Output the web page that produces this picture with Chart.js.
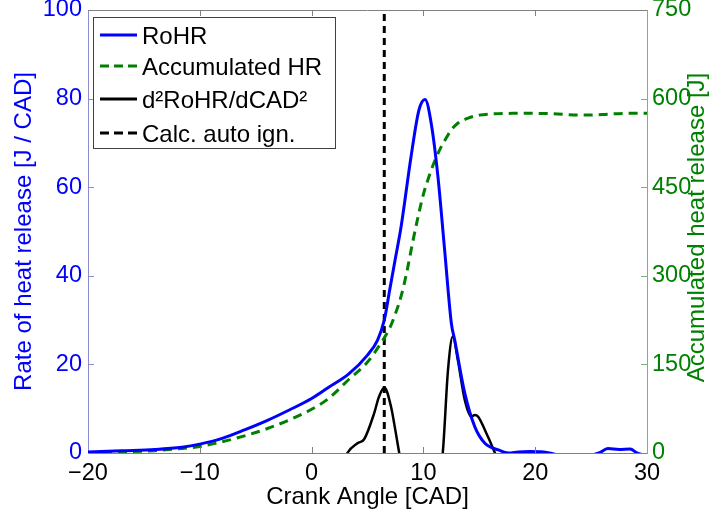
<!DOCTYPE html>
<html>
<head>
<meta charset="utf-8">
<script src="https://cdn.jsdelivr.net/npm/chart.js@4.4.0/dist/chart.umd.min.js"></script>
<style>
  html, body { margin: 0; padding: 0; background: #fff; }
  #wrap { width: 712px; height: 514px; }
</style>
</head>
<body>
<div id="wrap"><canvas id="chart" width="712" height="514"></canvas></div>
<script>
// Rate of heat release [J / CAD]
const rohrAngle = [-20, -17, -14, -11.6, -10, -8, -6, -4, -2, 0, 1.5, 3.3, 5.0, 5.9, 6.5, 7.0, 7.5, 8.0, 8.9, 9.6, 10.15, 10.7, 11.3, 11.9, 12.5, 12.8, 13.7, 14.6, 15.5, 16.7, 17.6, 18.5, 19.5, 20.5, 21.3, 22.5, 24.5, 25.7, 26.5, 27.5, 28.5, 29.1, 30];
const rohrValue = [0.2, 0.5, 0.8, 1.3, 2.0, 3.3, 5.2, 7.3, 9.7, 12.3, 14.8, 17.8, 22.1, 25.5, 30, 37, 44, 51, 67, 77.4, 79.8, 74.4, 62.4, 45.8, 29.3, 25.5, 13.5, 5.9, 2.2, 0.7, 0, 0.25, 0.35, 0.3, 0, -0.6, -0.6, 0, 1.0, 0.8, 0.9, 0, -0.6];

// Accumulated heat release [J]
const accAngle = [-20, -17, -14, -12, -10, -8, -6, -4, -2, 0, 1.5, 3.3, 5.0, 6.2, 7.0, 7.5, 8.0, 8.5, 9.0, 9.5, 10, 10.5, 11, 11.5, 12, 12.5, 13, 14, 15, 16, 18, 20, 22, 24, 26, 28, 30];
const accValue = [0.5, 2, 4, 7, 11, 19, 29, 41, 56, 74, 92, 124, 154, 186, 212, 236, 265, 305, 353, 398, 438, 468, 494, 515, 532, 547, 557, 567, 572, 574, 575, 575, 574, 572, 573, 575, 575];

// d2RoHR/dCAD2 (drawn on the left axis, clipped at zero)
const d2Angle = [2.6, 3.2, 4.1, 4.7, 5.6, 6.0, 6.5, 7.1, 7.5, 7.84, 8.3, 9.5, 10.5, 11.3, 11.73, 12.2, 12.63, 13.08, 13.7, 14.3, 14.6, 14.9, 15.5, 16.4, 17];
const d2Value = [-4, 0, 2.2, 3.1, 9, 12.5, 14.8, 10.5, 5, 0, -6, -20, -20, -6, 0, 18.7, 26.3, 21, 12, 8.2, 8.6, 8.2, 5.2, 0, -4];

// Calculated auto ignition
const autoIgnAngle = 6.5;

const xTicks = [-20, -10, 0, 10, 20, 30];
const leftTicks = [0, 20, 40, 60, 80, 100];
const rightTicks = [0, 150, 300, 450, 600, 750];

const zip = (xs, ys) => xs.map((x, i) => ({ x: x, y: ys[i] }));

const FONT = '"Liberation Sans", Arial, Helvetica, sans-serif';
const BLUE = '#0000ff';
const GREEN = '#008000';

const legendItems = [
    { text: 'RoHR', color: BLUE, dash: [], width: 3 },
    { text: 'Accumulated HR', color: GREEN, dash: [9, 5], width: 3 },
    { text: 'd\u00b2RoHR/dCAD\u00b2', color: '#000', dash: [], width: 3 },
    { text: 'Calc. auto ign.', color: '#000', dash: [9, 5], width: 3 }
];

// inward ticks, top frame, legend box and right-axis title
const decorations = {
    id: 'decorations',
    afterDraw(chart) {
        const ctx = chart.ctx;
        const area = chart.chartArea;
        const xs = chart.scales.x, yl = chart.scales.y, yr = chart.scales.y1;
        ctx.save();
        ctx.lineWidth = 1;
        ctx.strokeStyle = '#808080';
        ctx.beginPath();
        ctx.moveTo(area.left, area.top + 0.5);
        ctx.lineTo(area.right, area.top + 0.5);
        xTicks.slice(1, -1).forEach(v => {
            const px = Math.round(xs.getPixelForValue(v)) + 0.5;
            ctx.moveTo(px, area.bottom); ctx.lineTo(px, area.bottom - 6);
            ctx.moveTo(px, area.top); ctx.lineTo(px, area.top + 6);
        });
        ctx.stroke();
        ctx.strokeStyle = '#8c8cd0';
        ctx.beginPath();
        leftTicks.slice(1, -1).forEach(v => {
            const py = Math.round(yl.getPixelForValue(v)) + 0.5;
            ctx.moveTo(area.left, py); ctx.lineTo(area.left + 6, py);
        });
        ctx.stroke();
        ctx.strokeStyle = '#7fb07f';
        ctx.beginPath();
        rightTicks.slice(1, -1).forEach(v => {
            const py = Math.round(yr.getPixelForValue(v)) + 0.5;
            ctx.moveTo(area.right, py); ctx.lineTo(area.right - 6, py);
        });
        ctx.stroke();

        // legend
        const bx = 93.5, by = 17.5, bw = 242, bh = 131;
        ctx.fillStyle = '#fff';
        ctx.fillRect(bx, by, bw, bh);
        ctx.strokeStyle = '#404040';
        ctx.strokeRect(bx, by, bw, bh);
        const rows = [35, 66, 99, 133];
        ctx.font = '24px ' + FONT;
        ctx.textBaseline = 'middle';
        ctx.textAlign = 'left';
        legendItems.forEach((it, i) => {
            ctx.strokeStyle = it.color;
            ctx.lineWidth = it.width;
            ctx.setLineDash(it.dash);
            ctx.beginPath();
            ctx.moveTo(100, rows[i]);
            ctx.lineTo(137, rows[i]);
            ctx.stroke();
            ctx.setLineDash([]);
            ctx.fillStyle = '#000';
            ctx.fillText(it.text, 142, rows[i] + 2);
        });

        // right axis title, reading bottom to top
        ctx.translate(697, (area.top + area.bottom) / 2 - 4);
        ctx.rotate(-Math.PI / 2);
        ctx.textAlign = 'center';
        ctx.fillStyle = GREEN;
        ctx.fillText('Accumulated heat release [J]', 0, 0);
        ctx.restore();
    }
};

const minus = v => String(v).replace('-', '\u2212');

const config = {
    type: 'line',
    data: {
        datasets: [
            {
                label: 'RoHR',
                data: zip(rohrAngle, rohrValue),
                borderColor: BLUE,
                borderWidth: 3,
                yAxisID: 'y',
                cubicInterpolationMode: 'monotone'
            },
            {
                label: 'Accumulated HR',
                data: zip(accAngle, accValue),
                borderColor: GREEN,
                borderWidth: 3,
                borderDash: [9, 6],
                yAxisID: 'y1',
                cubicInterpolationMode: 'monotone'
            },
            {
                label: 'd2RoHR/dCAD2',
                data: zip(d2Angle, d2Value),
                borderColor: '#000',
                borderWidth: 2.5,
                yAxisID: 'y',
                cubicInterpolationMode: 'monotone'
            },
            {
                label: 'Calc. auto ign.',
                data: [{ x: autoIgnAngle, y: leftTicks[0] }, { x: autoIgnAngle, y: leftTicks[leftTicks.length - 1] }],
                borderColor: '#000',
                borderWidth: 3,
                borderDash: [7, 5],
                yAxisID: 'y'
            }
        ]
    },
    options: {
        responsive: false,
        animation: false,
        events: [],
        elements: { point: { radius: 0 } },
        layout: { padding: { top: 0, left: 0, right: 0, bottom: 0 } },
        plugins: {
            legend: { display: false },
            tooltip: { enabled: false }
        },
        scales: {
            x: {
                type: 'linear',
                min: xTicks[0],
                max: xTicks[xTicks.length - 1],
                grid: { display: false, drawTicks: false },
                border: { display: true, color: '#808080', width: 1 },
                ticks: { stepSize: 10, padding: 6, color: '#000', font: { family: FONT, size: 23.5 }, callback: minus },
                title: { display: true, text: 'Crank Angle [CAD]', color: '#000', font: { family: FONT, size: 24 }, padding: { top: 0, bottom: 2 } },
                afterFit: s => { s.height = 61; }
            },
            y: {
                type: 'linear',
                position: 'left',
                min: leftTicks[0],
                max: leftTicks[leftTicks.length - 1],
                grid: { display: false, drawTicks: false },
                border: { display: true, color: '#8c8cd0', width: 1 },
                ticks: { stepSize: 20, padding: 6, color: BLUE, font: { family: FONT, size: 23.5 } },
                title: { display: true, text: 'Rate of heat release [J / CAD]', color: BLUE, font: { family: FONT, size: 24 }, padding: { top: 10, bottom: 0 } },
                afterFit: s => { s.width = 88; s.paddingTop = 10; s.paddingBottom = 0; }
            },
            y1: {
                type: 'linear',
                position: 'right',
                min: rightTicks[0],
                max: rightTicks[rightTicks.length - 1],
                grid: { display: false, drawTicks: false },
                border: { display: true, color: '#7fb07f', width: 1 },
                ticks: { stepSize: 150, padding: 5, color: GREEN, font: { family: FONT, size: 23.5 } },
                afterFit: s => { s.width = 65; s.paddingTop = 10; s.paddingBottom = 0; }
            }
        }
    },
    plugins: [decorations]
};

const ctx = document.getElementById('chart').getContext('2d');
new Chart(ctx, config);
</script>
</body>
</html>
